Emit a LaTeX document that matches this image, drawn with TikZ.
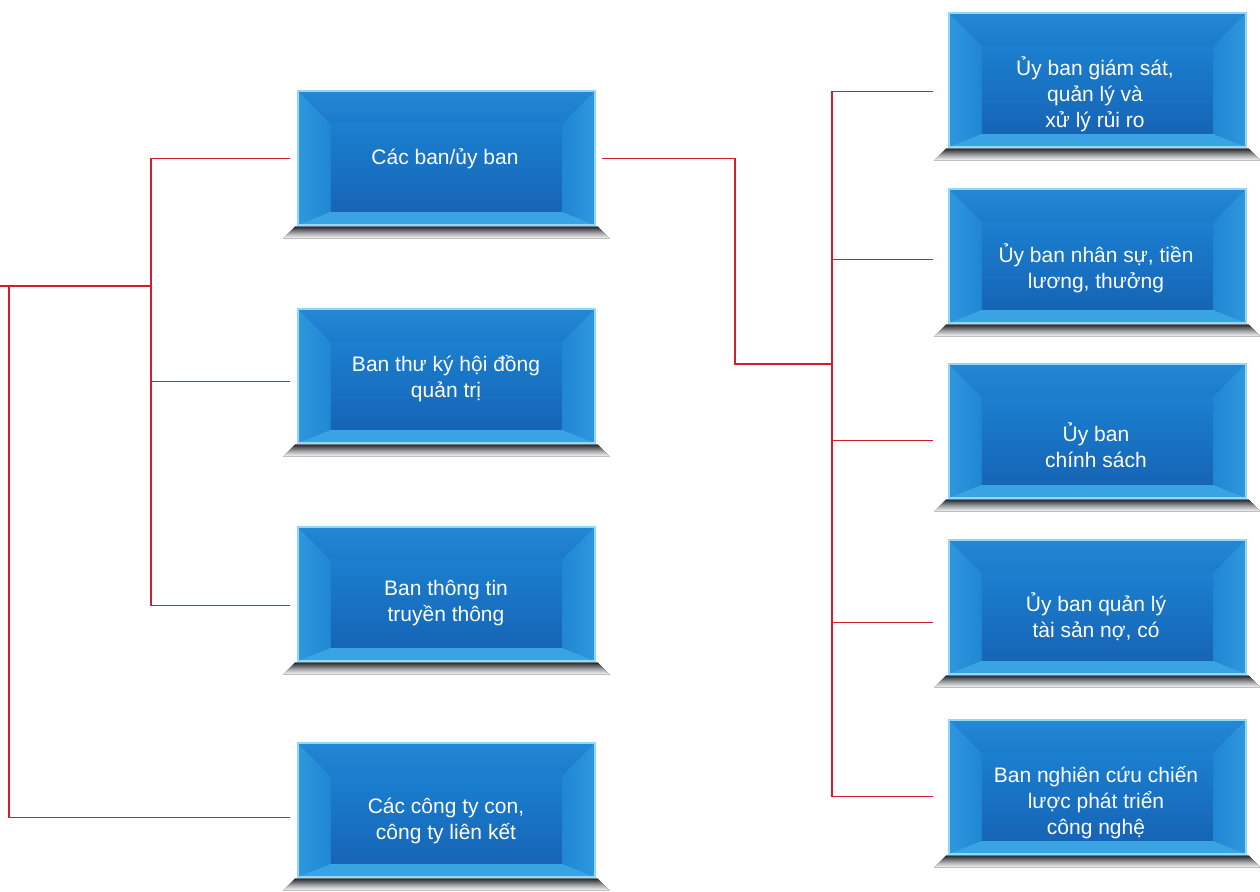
\documentclass[tikz,border=0pt]{standalone}
\usepackage{fontspec}
\setmainfont{Liberation Sans}
\definecolor{linered}{HTML}{D21F2B}
\definecolor{bordercol}{HTML}{8FD9F6}
\definecolor{bevtopA}{HTML}{2388D5}
\definecolor{bevtopB}{HTML}{1B7BCB}
\definecolor{bevsideA}{HTML}{2E98DE}
\definecolor{bevsideB}{HTML}{2086D4}
\definecolor{bevbot}{HTML}{3AA3E3}
\definecolor{innerA}{HTML}{1B7FCF}
\definecolor{innerB}{HTML}{1664B6}
\definecolor{shadowcol}{HTML}{262B31}
\tikzset{
  bevbox/.style={minimum width=297pt, minimum height=134pt, inner sep=0pt,
    anchor=north west, draw=bordercol, line width=1.6pt, fill=innerB,
    path picture={
      \coordinate (pnw) at (path picture bounding box.north west);
      \coordinate (pne) at (path picture bounding box.north east);
      \coordinate (psw) at (path picture bounding box.south west);
      \coordinate (pse) at (path picture bounding box.south east);
      \fill[top color=bevtopA, bottom color=bevtopB] (pnw) -- (pne) -- ([shift={(-33pt,-33pt)}]pne) -- ([shift={(33pt,-33pt)}]pnw) -- cycle;
      \fill[left color=bevsideA, right color=bevsideB] (pnw) -- ([shift={(33pt,-33pt)}]pnw) -- ([shift={(33pt,13pt)}]psw) -- (psw) -- cycle;
      \fill[right color=bevsideA, left color=bevsideB] (pne) -- ([shift={(-33pt,-33pt)}]pne) -- ([shift={(-33pt,13pt)}]pse) -- (pse) -- cycle;
      \fill[bevbot] (psw) -- (pse) -- ([shift={(-33pt,13pt)}]pse) -- ([shift={(33pt,13pt)}]psw) -- cycle;
      \fill[top color=innerA, bottom color=innerB] ([shift={(33pt,-33pt)}]pnw) rectangle ([shift={(-33pt,13pt)}]pse);
    }},
  boxtext/.style={text=white, font=\fontsize{21}{26}\selectfont, align=center, inner sep=0pt},
  conn/.style={draw=linered, line width=1.1pt},
  shadowbar/.style={top color=shadowcol, bottom color=white, middle color=shadowcol!45}
}
\newcommand\boxshadow[1]{%
  \fill[shadowbar] ([shift={(-2pt,-1pt)}]#1.south west) -- ([shift={(2pt,-1pt)}]#1.south east)
    -- ([shift={(14pt,-13pt)}]#1.south east) -- ([shift={(-14pt,-13pt)}]#1.south west) -- cycle;}
\begin{document}
\begin{tikzpicture}[x=1pt,y=-1pt]
\useasboundingbox (0,0) rectangle (1260,891);
% left column boxes
\node[bevbox] (b1) at (297,90) {};
\node[bevbox] (b2) at (297,308) {};
\node[bevbox] (b3) at (297,526) {};
\node[bevbox] (b4) at (297,742) {};
% right column boxes
\node[bevbox] (r1) at (948,12) {};
\node[bevbox] (r2) at (948,188) {};
\node[bevbox] (r3) at (948,363) {};
\node[bevbox] (r4) at (948,539) {};
\node[bevbox] (r5) at (948,719) {};
\foreach \n in {b1,b2,b3,b4,r1,r2,r3,r4,r5} {\boxshadow{\n}}
% texts
\node[boxtext] (t1) at (445,159) {Các ban/ủy ban};
\node[boxtext] (t2) at (446,379) {Ban thư ký hội đồng\\quản trị};
\node[boxtext] (t3) at (446,603) {Ban thông tin\\truyền thông};
\node[boxtext] (t4) at (446,821) {Các công ty con,\\công ty liên kết};
\node[boxtext] (s1) at (1095,94) {Ủy ban giám sát,\\quản lý và\\xử lý rủi ro};
\node[boxtext] (s2) at (1096,268) {Ủy ban nhân sự, tiền\\lương, thưởng};
\node[boxtext] (s3) at (1096,445) {Ủy ban\\chính sách};
\node[boxtext] (s4) at (1096,617) {Ủy ban quản lý\\tài sản nợ, có};
\node[boxtext] (s5) at (1096,803) {Ban nghiên cứu chiến\\lược phát triển\\công nghệ};
% connectors, left tree
\coordinate (root) at (0,286);
\coordinate (ja) at (9,286);
\coordinate (jb) at (151,286);
\draw[conn] (root) -- (jb);
\draw[conn, shorten >=7pt] (jb) |- ([yshift=-1pt]b1.west);
\draw[conn, shorten >=7pt] (jb) |- ([yshift=-6pt]b2.west);
\draw[conn, shorten >=7pt] (jb) |- ([yshift=-12pt]b3.west);
\draw[conn, shorten >=7pt] (ja) |- ([yshift=-8pt]b4.west);
% connectors, right tree
\coordinate (jc) at (735,364);
\coordinate (jd) at (832,364);
\draw[conn, shorten <=6pt] ([yshift=-1pt]b1.east) -| (jc) -- (jd);
\draw[conn, shorten >=15pt] (jd) |- ([yshift=-12pt]r1.west);
\draw[conn, shorten >=15pt] (jd) |- ([yshift=-4pt]r2.west);
\draw[conn, shorten >=15pt] (jd) |- ([yshift=-10pt]r3.west);
\draw[conn, shorten >=15pt] (jd) |- ([yshift=-16pt]r4.west);
\draw[conn, shorten >=15pt] (jd) |- ([yshift=-10pt]r5.west);
\end{tikzpicture}
\end{document}
